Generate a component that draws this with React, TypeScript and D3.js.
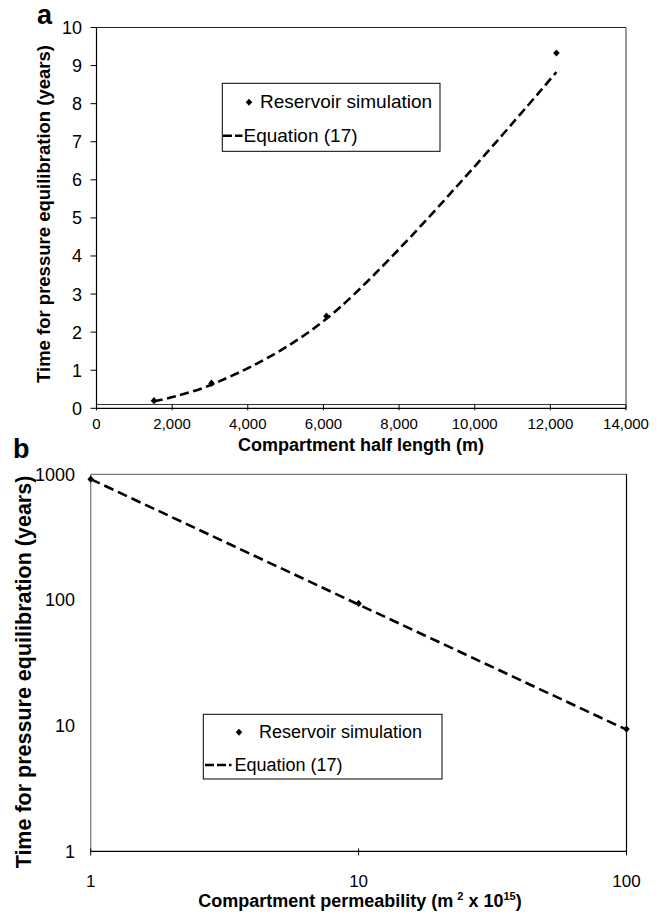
import React from 'react';
import * as d3 from 'd3';

// ---------- data ----------
const lengthTicks = [0, 2000, 4000, 6000, 8000, 10000, 12000, 14000];
const timeTicksA = [0, 1, 2, 3, 4, 5, 6, 7, 8, 9, 10];
const simLength = [1520, 3040, 6080, 12160];
const simTimeA = [0.2, 0.66, 2.42, 9.33];
const eqLength = [1520, 3040, 6080, 12160];
const eqTimeA = [0.18, 0.62, 2.35, 8.83];
const refLineA = 0.1;

const permTicks = [1, 10, 100];
const timeTicksB = [1, 10, 100, 1000];
const simPerm = [1, 10, 100];
const simTimeB = [915, 94, 9.4];
const eqPerm = [1, 10, 100];
const eqTimeB = [915, 92, 9.3];

const legendLabels = ['Reservoir simulation', 'Equation (17)'];
const yTitle = 'Time for pressure equilibration (years)';
const xTitleA = 'Compartment half length (m)';

const FONT = '"Liberation Sans", Arial, Helvetica, sans-serif';

const diamondType = {
  draw(ctx: any, size: number) {
    const h = Math.sqrt(size) * 0.55;
    const w = h * 0.92;
    ctx.moveTo(0, -h);
    ctx.lineTo(w, 0);
    ctx.lineTo(0, h);
    ctx.lineTo(-w, 0);
    ctx.closePath();
  },
};
const diamondPath = d3.symbol(diamondType as any, 42)() as string;

function Legend({ x, y, w, h, fs, dia, txt1, dash, txt2 }: any) {
  return (
    <g>
      <rect x={x} y={y} width={w} height={h} fill="#fff" stroke="#000" strokeWidth={1} />
      <path d={diamondPath} transform={`translate(${dia[0]},${dia[1]})`} fill="#000" />
      <text x={txt1[0]} y={txt1[1]} fontSize={fs} fontFamily={FONT}>{legendLabels[0]}</text>
      <line x1={dash[0]} x2={dash[1]} y1={dash[2]} y2={dash[2]} stroke="#000" strokeWidth={2.5} strokeDasharray="9,3" />
      <text x={txt2[0]} y={txt2[1]} fontSize={fs} fontFamily={FONT}>{legendLabels[1]}</text>
    </g>
  );
}

export default function App() {
  // ---- panel a ----
  const xA = d3.scaleLinear().domain([0, 14000]).range([96.5, 626]);
  const yA = d3.scaleLinear().domain([0, 10]).range([408.3, 27.5]);
  const fmt = d3.format(',');
  const lineA = d3
    .line<number>()
    .x((d, i) => xA(eqLength[i]))
    .y((d) => yA(d))
    .curve(d3.curveCatmullRom.alpha(0.5));

  // ---- panel b ----
  const xB = d3.scaleLog().domain([1, 100]).range([90.7, 626.5]);
  const yB = d3.scaleLog().domain([1, 1000]).range([851.4, 474.3]);
  const lineB = d3
    .line<number>()
    .x((d, i) => xB(eqPerm[i]))
    .y((d) => yB(d));

  return (
    <svg
      width={663}
      height={917}
      style={{ position: 'absolute', left: 0, top: 0, background: '#fff' }}
      fontFamily={FONT}
    >
      <rect x={0} y={0} width={663} height={917} fill="#fff" />

      {/* ================= PANEL A ================= */}
      <text x={37} y={24} fontSize={27} fontWeight="bold">a</text>
      {/* frame */}
      <line x1={xA(0)} x2={xA(14000)} y1={yA(10)} y2={yA(10)} stroke="#222" strokeWidth={1.2} />
      <line x1={xA(14000)} x2={xA(14000)} y1={yA(10)} y2={yA(0)} stroke="#555" strokeWidth={1.2} />
      <line x1={xA(0)} x2={xA(0)} y1={yA(10)} y2={yA(0)} stroke="#000" strokeWidth={1.2} />
      <line x1={xA(0)} x2={xA(14000)} y1={yA(0)} y2={yA(0)} stroke="#000" strokeWidth={1.2} />
      <line x1={xA(0)} x2={xA(14000)} y1={yA(refLineA)} y2={yA(refLineA)} stroke="#333" strokeWidth={1} />
      {/* y ticks */}
      {timeTicksA.map((t) => (
        <g key={'ya' + t}>
          <line x1={xA(0) - 6} x2={xA(0)} y1={yA(t)} y2={yA(t)} stroke="#000" strokeWidth={1} />
          <text x={82} y={yA(t)} dy="0.36em" textAnchor="end" fontSize={18}>{t}</text>
        </g>
      ))}
      {/* x ticks */}
      {lengthTicks.map((t) => (
        <g key={'xa' + t}>
          <line x1={xA(t)} x2={xA(t)} y1={yA(refLineA)} y2={yA(0) + 2} stroke="#000" strokeWidth={1} />
          <text x={xA(t)} y={429} textAnchor="middle" fontSize={15}>{fmt(t)}</text>
        </g>
      ))}
      {/* equation line */}
      <path d={lineA(eqTimeA) as string} fill="none" stroke="#000" strokeWidth={2.6} strokeDasharray="9,4.5" />
      {/* sim points */}
      {simLength.map((L, i) => (
        <path key={'pa' + i} d={diamondPath} transform={`translate(${xA(L)},${yA(simTimeA[i])})`} fill="#000" />
      ))}
      {/* titles */}
      <text x={361} y={451} textAnchor="middle" fontSize={18} fontWeight="bold">{xTitleA}</text>
      <text transform={`translate(50,214) rotate(-90)`} textAnchor="middle" fontSize={18.5} fontWeight="bold">{yTitle}</text>
      <Legend x={222.3} y={83.3} w={217.7} h={68} fs={19} dia={[249, 102.3]} txt1={[260, 107.5]} dash={[223, 242.5, 135.7]} txt2={[243.5, 141.5]} />

      {/* ================= PANEL B ================= */}
      <text x={13} y={458} fontSize={27} fontWeight="bold">b</text>
      <line x1={xB(1)} x2={xB(100)} y1={yB(1000)} y2={yB(1000)} stroke="#777" strokeWidth={1.2} />
      <line x1={xB(1)} x2={xB(1)} y1={yB(1000)} y2={yB(1)} stroke="#777" strokeWidth={1.2} />
      <line x1={xB(100)} x2={xB(100)} y1={yB(1000)} y2={yB(1)} stroke="#000" strokeWidth={1.2} />
      <line x1={xB(1)} x2={xB(100)} y1={yB(1)} y2={yB(1)} stroke="#000" strokeWidth={1.2} />
      {timeTicksB.map((t) => (
        <text key={'yb' + t} x={75} y={yB(t)} dy="0.36em" textAnchor="end" fontSize={18}>{t}</text>
      ))}
      {permTicks.map((t) => (
        <g key={'xb' + t}>
          <line x1={xB(t)} x2={xB(t)} y1={yB(1) - 3} y2={yB(1) + 4} stroke="#000" strokeWidth={1} />
          <text x={xB(t)} y={887} textAnchor="middle" fontSize={17}>{t}</text>
        </g>
      ))}
      <path d={lineB(eqTimeB) as string} fill="none" stroke="#000" strokeWidth={2.6} strokeDasharray="10,5" />
      {simPerm.map((k, i) => (
        <path key={'pb' + i} d={diamondPath} transform={`translate(${xB(k)},${yB(simTimeB[i])})`} fill="#000" />
      ))}
      <text x={360} y={907} textAnchor="middle" fontSize={18} fontWeight="bold">
        Compartment permeability (m
        <tspan dx={4} dy={-7} fontSize={11}>2</tspan>
        <tspan dy={7}> x 10</tspan>
        <tspan dy={-7} fontSize={11}>15</tspan>
        <tspan dy={7}>)</tspan>
      </text>
      <text transform={`translate(30.5,672) rotate(-90)`} textAnchor="middle" fontSize={21.5} fontWeight="bold">{yTitle}</text>
      <Legend x={203.3} y={714.3} w={238.7} h={64.7} fs={18} dia={[239, 732.3]} txt1={[259, 737.5]} dash={[205, 231.5, 765]} txt2={[234.5, 771]} />
    </svg>
  );
}
